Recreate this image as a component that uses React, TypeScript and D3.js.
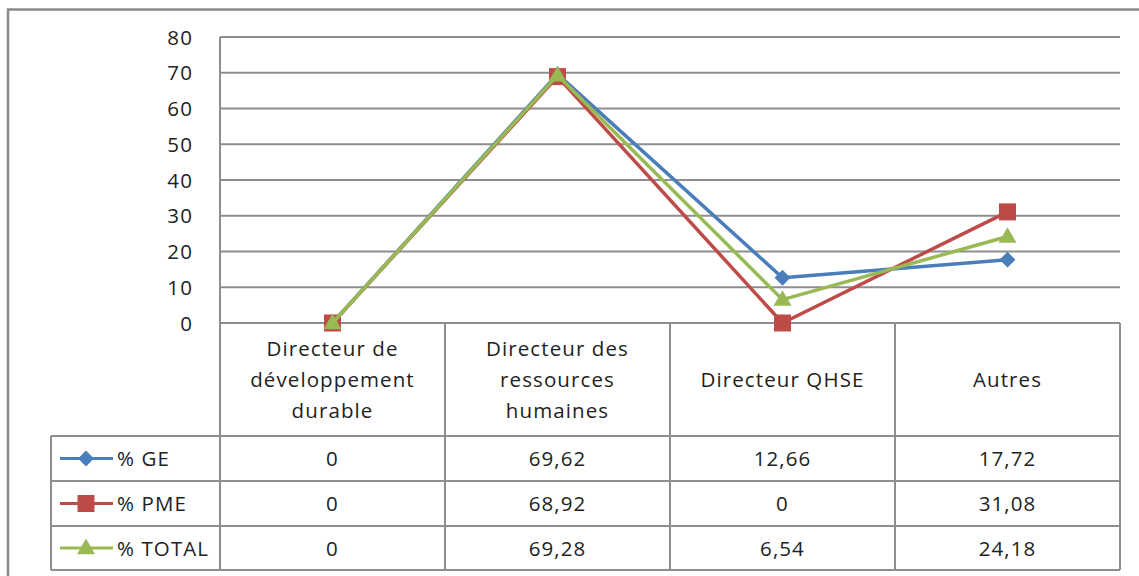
import React from "react";
import * as d3 from "d3";

const categories: string[][] = [
  ["Directeur de", "développement", "durable"],
  ["Directeur des", "ressources", "humaines"],
  ["Directeur QHSE"],
  ["Autres"],
];
const seriesNames = ["% GE", "% PME", "% TOTAL"];
const seriesColors = ["#4a7ebb", "#be4b48", "#98b954"];
const seriesMarkers = ["diamond", "square", "triangle"];
const geValues = [0, 69.62, 12.66, 17.72];
const pmeValues = [0, 68.92, 0, 31.08];
const totalValues = [0, 69.28, 6.54, 24.18];
const seriesValues = [geValues, pmeValues, totalValues];
const yTicks = [0, 10, 20, 30, 40, 50, 60, 70, 80];

const W = 1139;
const H = 576;
const plotLeft = 220;
const plotRight = 1120;
const plotTop = 37;
const plotBottom = 323;
const headerBottom = 436;
const rowBounds = [436, 481, 526, 570];
const tableLeft = 51;
const gridColor = "#8e8e8e";
const textColor = "#222";
const font = "'Open Sans', sans-serif";
const fs = 20.5;
const ls = 1.1;

function marker(type: string, x: number, y: number, color: string, key: string) {
  if (type === "diamond") {
    const s = d3.symbol(d3.symbolDiamond2, 160)();
    return <path key={key} d={s || ""} transform={`translate(${x},${y})`} fill={color} />;
  }
  if (type === "square") {
    return <rect key={key} x={x - 8.5} y={y - 8.5} width={17} height={17} fill={color} />;
  }
  const t = d3.symbol(d3.symbolTriangle, 140)();
  return <path key={key} d={t || ""} transform={`translate(${x},${y + 1})`} fill={color} />;
}

export default function App() {
  const x = d3
    .scaleBand<number>()
    .domain(d3.range(categories.length))
    .range([plotLeft, plotRight])
    .padding(0);
  const y = d3.scaleLinear().domain([0, 80]).range([plotBottom, plotTop]);
  const cx = (i: number) => (x(i) as number) + x.bandwidth() / 2;
  const line = d3
    .line<number>()
    .x((_, i) => cx(i))
    .y((d) => y(d));

  const colEdges = d3.range(categories.length + 1).map((i) => plotLeft + i * x.bandwidth());
  const headerMid = (plotBottom + headerBottom) / 2;

  return (
    <svg
      width={W}
      height={H}
      style={{ position: "absolute", left: 0, top: 0, background: "#fff" }}
      fontFamily={font}
      letterSpacing={ls}
    >
      <rect x={0} y={0} width={W} height={H} fill="#fff" />
      {/* outer frame */}
      <rect x={8} y={9.5} width={W + 20} height={H + 20} fill="none" stroke="#8a8a8a" strokeWidth={2.5} />

      {/* gridlines */}
      {yTicks.map((t) => (
        <line key={"g" + t} x1={plotLeft} x2={plotRight} y1={y(t)} y2={y(t)} stroke={gridColor} strokeWidth={2} />
      ))}
      <line x1={plotLeft} x2={plotLeft} y1={plotTop} y2={plotBottom} stroke={gridColor} strokeWidth={2} />
      {yTicks.map((t) => (
        <text key={"t" + t} x={193} y={y(t) + 7.5} textAnchor="end" fontSize={fs} fill={textColor}>
          {t}
        </text>
      ))}

      {/* table */}
      {colEdges.map((e, i) => (
        <line key={"c" + i} x1={e} x2={e} y1={plotBottom} y2={rowBounds[rowBounds.length - 1]} stroke={gridColor} strokeWidth={2} />
      ))}
      <line x1={tableLeft} x2={tableLeft} y1={rowBounds[0]} y2={rowBounds[rowBounds.length - 1]} stroke={gridColor} strokeWidth={2} />
      {rowBounds.map((r, i) => (
        <line key={"r" + i} x1={tableLeft} x2={plotRight} y1={r} y2={r} stroke={gridColor} strokeWidth={2} />
      ))}

      {/* headers */}
      {categories.map((lines, i) => (
        <text key={"h" + i} textAnchor="middle" fontSize={fs} fill={textColor}>
          {lines.map((l, j) => (
            <tspan key={j} x={cx(i)} y={headerMid + 7.5 + (j - (lines.length - 1) / 2) * 31}>
              {l}
            </tspan>
          ))}
        </text>
      ))}

      {/* value rows + legend */}
      {seriesValues.map((vals, s) => {
        const mid = (rowBounds[s] + rowBounds[s + 1]) / 2;
        return (
          <g key={"row" + s}>
            <line x1={60} x2={113} y1={mid} y2={mid} stroke={seriesColors[s]} strokeWidth={3} />
            {marker(seriesMarkers[s], 86, mid, seriesColors[s], "lm" + s)}
            <text x={117} y={mid + 7.5} fontSize={fs} fill={textColor}>
              {seriesNames[s]}
            </text>
            {vals.map((v, i) => (
              <text key={i} x={cx(i)} y={mid + 7.5} textAnchor="middle" fontSize={fs} fill={textColor}>
                {v === 0 ? "0" : v.toFixed(2).replace(".", ",")}
              </text>
            ))}
          </g>
        );
      })}

      {/* lines */}
      {seriesValues.map((vals, s) => (
        <g key={"s" + s}>
          <path d={line(vals) || ""} fill="none" stroke={seriesColors[s]} strokeWidth={3.5} strokeLinejoin="round" />
          {vals.map((v, i) => marker(seriesMarkers[s], cx(i), y(v), seriesColors[s], `m${s}-${i}`))}
        </g>
      ))}
    </svg>
  );
}
